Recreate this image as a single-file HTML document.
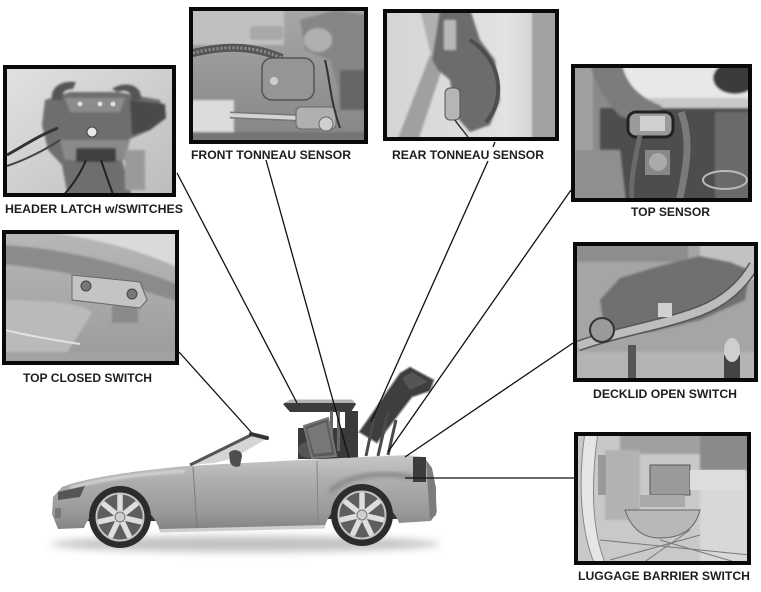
<!DOCTYPE html>
<html><head><meta charset="utf-8"><style>
html,body{margin:0;padding:0;background:#fff;}
svg{display:block}
text{font-family:"Liberation Sans",Arial,sans-serif;font-weight:bold;font-size:12px;fill:#1e1e1e}
</style></head><body>
<svg width="761" height="592" viewBox="0 0 761 592" xmlns="http://www.w3.org/2000/svg">
<defs>
 <filter id="b1" x="-10%" y="-10%" width="120%" height="120%"><feGaussianBlur stdDeviation="1"/></filter>
 <filter id="b2" x="-20%" y="-20%" width="140%" height="140%"><feGaussianBlur stdDeviation="2"/></filter>
 <filter id="b4" x="-20%" y="-100%" width="140%" height="300%"><feGaussianBlur stdDeviation="4"/></filter>
 <clipPath id="cHL"><rect x="3" y="65" width="173" height="132"/></clipPath>
 <clipPath id="cFT"><rect x="189" y="7" width="179" height="137"/></clipPath>
 <clipPath id="cRT"><rect x="383" y="9" width="176" height="132"/></clipPath>
 <clipPath id="cTS"><rect x="571" y="64" width="181" height="138"/></clipPath>
 <clipPath id="cTC"><rect x="2" y="230" width="177" height="135"/></clipPath>
 <clipPath id="cDL"><rect x="573" y="242" width="185" height="140"/></clipPath>
 <clipPath id="cLB"><rect x="574" y="432" width="177" height="133"/></clipPath>
 <linearGradient id="gHL" x1="0" y1="0" x2="1" y2="1"><stop offset="0" stop-color="#e2e2e2"/><stop offset="1" stop-color="#bcbcbc"/></linearGradient>
 <linearGradient id="gFT" x1="0" y1="0" x2="0" y2="1"><stop offset="0" stop-color="#a8a8a8"/><stop offset="1" stop-color="#858585"/></linearGradient>
 <linearGradient id="gRT" x1="0" y1="0" x2="1" y2="0"><stop offset="0" stop-color="#d4d4d4"/><stop offset="0.7" stop-color="#e2e2e2"/><stop offset="1" stop-color="#c8c8c8"/></linearGradient>
 <linearGradient id="gTC" x1="0" y1="0" x2="0" y2="1"><stop offset="0" stop-color="#b8b8b8"/><stop offset="1" stop-color="#9a9a9a"/></linearGradient>
 <linearGradient id="gBody" gradientUnits="userSpaceOnUse" x1="0" y1="455" x2="0" y2="532"><stop offset="0" stop-color="#c8c8c8"/><stop offset="0.3" stop-color="#b0b0b0"/><stop offset="0.75" stop-color="#999"/><stop offset="1" stop-color="#808080"/></linearGradient>
 <g id="wheel">
  <circle r="31" fill="#2c2c2c"/>
  <circle r="23.5" fill="#5e5e5e"/>
  <g stroke="#dedede" stroke-width="5.5" stroke-linecap="round">
   <line x1="0" y1="0" x2="0" y2="-21"/>
   <line x1="0" y1="0" x2="16.4" y2="-13.1"/>
   <line x1="0" y1="0" x2="20.5" y2="4.7"/>
   <line x1="0" y1="0" x2="9.1" y2="18.9"/>
   <line x1="0" y1="0" x2="-9.1" y2="18.9"/>
   <line x1="0" y1="0" x2="-20.5" y2="4.7"/>
   <line x1="0" y1="0" x2="-16.4" y2="-13.1"/>
  </g>
  <circle r="23.5" fill="none" stroke="#c4c4c4" stroke-width="2"/>
  <circle r="5" fill="#cfcfcf" stroke="#777" stroke-width="1"/>
 </g>
</defs>

<rect width="761" height="592" fill="#fff"/>

<!-- ===== HEADER LATCH photo ===== -->
<g clip-path="url(#cHL)">
 <rect x="3" y="65" width="173" height="132" fill="url(#gHL)"/>
 <g filter="url(#b1)">
 <path d="M45,100 L70,92 L118,92 L160,100 L166,118 L150,130 L128,140 L122,160 L132,197 L68,197 L62,165 L48,150 L42,125 Z" fill="#6e6e6e"/>
 <path d="M52,100 C50,88 60,80 76,82 L73,89 C63,89 61,95 63,100 Z" fill="#555"/>
 <path d="M112,89 C125,80 143,85 141,100 L131,100 C133,93 126,88 118,92 Z" fill="#555"/>
 <path d="M65,98 L125,98 L120,112 L70,112 Z" fill="#8c8c8c"/>
 <path d="M130,100 L165,104 L166,118 L150,130 L132,135 Z" fill="#4a4a4a"/>
 <path d="M60,140 L130,140 L125,160 L65,160 Z" fill="#8a8a8a"/>
 <rect x="76" y="148" width="40" height="14" fill="#3f3f3f"/>
 <rect x="125" y="150" width="20" height="40" fill="#9a9a9a"/>
 </g>
 <circle cx="92" cy="132" r="5" fill="#e8e8e8" stroke="#444" stroke-width="1"/>
 <circle cx="80" cy="104" r="2.5" fill="#ddd"/><circle cx="100" cy="104" r="2.5" fill="#ddd"/><circle cx="113" cy="104" r="2.5" fill="#ddd"/>
 <path d="M7,155 C25,145 40,135 58,128" stroke="#333" stroke-width="3" fill="none"/>
 <path d="M7,166 C25,160 45,150 60,140" stroke="#444" stroke-width="2" fill="none"/>
 <path d="M86,160 C80,175 72,186 62,197" stroke="#222" stroke-width="2" fill="none"/>
 <path d="M101,160 C106,175 110,186 114,197" stroke="#222" stroke-width="2" fill="none"/>
</g>
<rect x="5" y="67" width="169" height="128" fill="none" stroke="#0a0a0a" stroke-width="4"/>

<!-- ===== FRONT TONNEAU photo ===== -->
<g clip-path="url(#cFT)">
 <rect x="189" y="7" width="179" height="137" fill="url(#gFT)"/>
 <g filter="url(#b1)">
 <rect x="189" y="7" width="95" height="38" fill="#c0c0c0"/>
 <path d="M300,20 L335,10 L368,15 L368,100 L340,95 L330,60 L305,50 Z" fill="#868686"/>
 <ellipse cx="318" cy="40" rx="14" ry="12" fill="#b0b0b0"/>
 <rect x="250" y="26" width="33" height="14" rx="3" fill="#a8a8a8"/>
 <rect x="340" y="70" width="28" height="40" fill="#666"/>
 <rect x="189" y="100" width="45" height="40" fill="#dcdcdc"/>
 <rect x="189" y="132" width="179" height="12" fill="#747474"/>
 </g>
 <path d="M189,54 C220,46 250,44 282,58" stroke="#555" stroke-width="8" fill="none"/>
 <path d="M189,54 C220,46 250,44 282,58" stroke="#8e8e8e" stroke-width="3" stroke-dasharray="2 2" fill="none"/>
 <rect x="262" y="58" width="52" height="42" rx="10" fill="#959595" stroke="#555" stroke-width="1.5"/>
 <circle cx="274" cy="81" r="4" fill="#cfcfcf"/>
 <line x1="230" y1="115" x2="300" y2="118" stroke="#777" stroke-width="7"/>
 <line x1="230" y1="115" x2="300" y2="118" stroke="#d5d5d5" stroke-width="4"/>
 <rect x="296" y="107" width="40" height="22" rx="5" fill="#b0b0b0" stroke="#666"/>
 <circle cx="326" cy="124" r="7" fill="#cfcfcf" stroke="#666"/>
 <path d="M325,60 C330,80 330,100 340,128" stroke="#333" stroke-width="2" fill="none"/>
</g>
<rect x="191" y="9" width="175" height="133" fill="none" stroke="#0a0a0a" stroke-width="4"/>

<!-- ===== REAR TONNEAU photo ===== -->
<g clip-path="url(#cRT)">
 <rect x="383" y="9" width="176" height="132" fill="url(#gRT)"/>
 <g filter="url(#b1)">
 <rect x="532" y="9" width="27" height="132" fill="#a2a2a2"/>
 <polygon points="397,141 418,141 445,60 430,55" fill="#a0a0a0"/>
 <polygon points="420,9 440,9 445,55 432,60" fill="#b0b0b0"/>
 <path d="M440,9 L470,9 L480,40 L495,60 L500,100 L490,125 L470,132 L455,115 L450,80 L438,70 L432,60 Z" fill="#6c6c6c"/>
 <rect x="444" y="20" width="12" height="30" fill="#b8b8b8"/>
 </g>
 <path d="M470,40 C502,60 506,100 486,122" stroke="#4e4e4e" stroke-width="4" fill="none"/>
 <rect x="445" y="88" width="15" height="32" rx="5" fill="#b5b5b5" stroke="#555"/>
 <path d="M455,120 C460,128 468,135 470,141" stroke="#333" stroke-width="1.5" fill="none"/>
</g>
<rect x="385" y="11" width="172" height="128" fill="none" stroke="#0a0a0a" stroke-width="4"/>

<!-- ===== TOP SENSOR photo ===== -->
<g clip-path="url(#cTS)">
 <rect x="571" y="64" width="181" height="138" fill="#8a8a8a"/>
 <g filter="url(#b1)">
 <path d="M600,64 L752,64 L752,108 L640,108 Z" fill="#e8e8e8"/>
 <rect x="640" y="98" width="112" height="10" fill="#c8c8c8"/>
 <rect x="571" y="64" width="22" height="138" fill="#a0a0a0"/>
 <rect x="600" y="108" width="152" height="94" fill="#4d4d4d"/>
 <path d="M590,64 L622,64 C626,84 640,98 662,106 L652,126 L620,116 C605,100 595,84 590,64 Z" fill="#7c7c7c"/>
 <path d="M575,150 L620,150 L626,202 L575,202 Z" fill="#8f8f8f"/>
 <ellipse cx="735" cy="78" rx="22" ry="16" fill="#3a3a3a"/>
 <rect x="715" y="112" width="37" height="90" fill="#6a6a6a"/>
 </g>
 <rect x="628" y="112" width="45" height="25" rx="8" fill="#9a9a9a" stroke="#222" stroke-width="3"/>
 <rect x="640" y="116" width="25" height="15" fill="#cfcfcf"/>
 <path d="M640,135 C635,160 630,180 632,202" stroke="#6a6a6a" stroke-width="5" fill="none"/>
 <path d="M681,112 C692,140 686,170 679,202" stroke="#7a7a7a" stroke-width="7" fill="none"/>
 <rect x="645" y="150" width="25" height="25" fill="#888"/>
 <circle cx="658" cy="162" r="9" fill="#aaa"/>
 <ellipse cx="725" cy="180" rx="22" ry="9" fill="none" stroke="#bbb" stroke-width="2"/>
</g>
<rect x="573" y="66" width="177" height="134" fill="none" stroke="#0a0a0a" stroke-width="4"/>

<!-- ===== TOP CLOSED SWITCH photo ===== -->
<g clip-path="url(#cTC)">
 <rect x="2" y="230" width="177" height="135" fill="url(#gTC)"/>
 <g filter="url(#b1)">
 <path d="M50,230 L179,230 L179,268 C140,250 100,240 50,232 Z" fill="#dadada"/>
 <path d="M2,245 C60,248 120,262 179,285 L179,302 C120,282 60,270 2,264 Z" fill="#8b8b8b"/>
 <path d="M5,300 C40,300 80,302 92,312 C82,330 72,345 62,360 L2,360 L2,300 Z" fill="#bababa"/>
 <rect x="2" y="352" width="177" height="13" fill="#a2a2a2"/>
 <rect x="112" y="305" width="26" height="18" fill="#8a8a8a"/>
 </g>
 <path d="M72,275 L140,282 L147,300 L140,308 L72,300 Z" fill="#c4c4c4" stroke="#666"/>
 <circle cx="86" cy="286" r="5" fill="#777" stroke="#444"/>
 <circle cx="132" cy="294" r="5" fill="#777" stroke="#444"/>
 <path d="M5,330 C30,336 60,341 80,344" stroke="#e2e2e2" stroke-width="2" fill="none"/>
</g>
<rect x="4" y="232" width="173" height="131" fill="none" stroke="#0a0a0a" stroke-width="4"/>

<!-- ===== DECKLID OPEN SWITCH photo ===== -->
<g clip-path="url(#cDL)">
 <rect x="573" y="242" width="185" height="140" fill="#a5a5a5"/>
 <g filter="url(#b1)">
 <rect x="573" y="242" width="115" height="20" fill="#8d8d8d"/>
 <rect x="700" y="242" width="58" height="38" fill="#c2c2c2"/>
 <rect x="573" y="352" width="185" height="30" fill="#b4b4b4"/>
 <path d="M600,300 L620,278 L660,266 L700,256 L730,262 L750,270 L745,300 L700,320 L650,332 L605,332 Z" fill="#707070"/>
 </g>
 <path d="M578,346 C620,331 660,326 700,311 C730,299 745,281 754,265" stroke="#555" stroke-width="11" fill="none"/>
 <path d="M578,346 C620,331 660,326 700,311 C730,299 745,281 754,265" stroke="#bdbdbd" stroke-width="8" fill="none"/>
 <circle cx="602" cy="330" r="12" fill="#9a9a9a" stroke="#333" stroke-width="2"/>
 <rect x="658" y="303" width="14" height="14" fill="#d0d0d0"/>
 <rect x="628" y="345" width="8" height="37" fill="#555"/>
 <rect x="724" y="355" width="16" height="27" fill="#444"/>
 <ellipse cx="732" cy="350" rx="8" ry="12" fill="#cfcfcf"/>
</g>
<rect x="575" y="244" width="181" height="136" fill="none" stroke="#0a0a0a" stroke-width="4"/>

<!-- ===== LUGGAGE BARRIER photo ===== -->
<g clip-path="url(#cLB)">
 <rect x="574" y="432" width="177" height="133" fill="#c9c9c9"/>
 <g filter="url(#b1)">
 <rect x="700" y="432" width="51" height="38" fill="#8a8a8a"/>
 <rect x="620" y="432" width="80" height="22" fill="#a0a0a0"/>
 <rect x="605" y="450" width="35" height="70" fill="#b2b2b2"/>
 <rect x="700" y="480" width="51" height="85" fill="#d8d8d8"/>
 </g>
 <path d="M585,432 C578,480 580,530 595,565 L606,565 C591,530 591,480 598,432 Z" fill="#e6e6e6" stroke="#888"/>
 <rect x="598" y="455" width="8" height="40" fill="#999"/>
 <rect x="650" y="465" width="40" height="30" fill="#9a9a9a" stroke="#555"/>
 <rect x="690" y="470" width="55" height="20" fill="#dedede"/>
 <rect x="640" y="495" width="45" height="12" fill="#aaa"/>
 <path d="M625,510 L700,510 C695,530 680,538 660,538 C640,538 630,525 625,510 Z" fill="#b8b8b8" stroke="#666"/>
 <g stroke="#777" stroke-width="1" fill="none">
  <path d="M600,540 L750,555"/><path d="M610,560 L700,535"/><path d="M640,565 L690,530"/><path d="M660,540 L745,565"/>
 </g>
</g>
<rect x="576" y="434" width="173" height="129" fill="none" stroke="#0a0a0a" stroke-width="4"/>

<!-- ===== CAR ===== -->
<ellipse cx="245" cy="544" rx="195" ry="8" fill="#9a9a9a" opacity="0.6" filter="url(#b4)"/>

<!-- raised decklid -->
<polygon points="359,432 400,373 410,367 434,380 430,391 412,397 377,443" fill="#3e3e3e" stroke="#9a9a9a" stroke-width="1.5"/>
<polygon points="402,378 412,372 428,382 410,390" fill="#555"/>
<g stroke="#4a4a4a" stroke-width="3">
 <line x1="366" y1="456" x2="374" y2="418"/>
 <line x1="378" y1="456" x2="388" y2="412"/>
 <line x1="388" y1="455" x2="396" y2="420"/>
</g>
<!-- cockpit -->
<rect x="298" y="428" width="48" height="31" fill="#3a3a3a"/>
<ellipse cx="308" cy="450" rx="10" ry="8" fill="#555"/>
<!-- front tonneau raised panel & post -->
<polygon points="283,404 290,400 352,400 356,404 351,412 290,412" fill="#3c3c3c"/>
<polygon points="285,403 291,399.5 352,399.5 355,403" fill="#b4b4b4"/>
<rect x="345" y="411" width="13" height="47" fill="#3a3a3a"/>
<rect x="330" y="411" width="3" height="40" fill="#666"/>
<rect x="337" y="411" width="3" height="40" fill="#666"/>
<polygon points="304,426 328,418 336,456 312,458" fill="#5a5a5a" stroke="#777" stroke-width="2"/>
<polygon points="307,429 326,422 332,452 314,454" fill="#8c8c8c" opacity="0.6"/>

<!-- arch interiors -->
<path d="M82,521 A38 38 0 0 1 158,521 Z" fill="#333"/>
<path d="M324,519 A38 38 0 0 1 400,519 Z" fill="#333"/>

<!-- body -->
<path d="M58,529 L52,514 L53,497 L62,487 C80,480 120,472 187,466 L300,460 L407,455 L424,457 L430,465 L435,485 L437,512 L431,521 L399,523 A39 39 0 0 0 325,526 L160,531 A40 40 0 0 0 84,528 Z" fill="url(#gBody)"/>
<path d="M70,488 C100,479 140,474 185,471" stroke="#d4d4d4" stroke-width="3" fill="none" filter="url(#b1)"/>
<path d="M330,492 C345,476 380,470 415,478" stroke="#828282" stroke-width="4" fill="none" filter="url(#b2)"/>
<!-- headlight, grille -->
<path d="M58,492 L85,486 L80,497 L58,500 Z" fill="#555"/>
<rect x="55" y="508" width="6" height="10" fill="#777"/>
<!-- taillight -->
<rect x="413" y="457" width="13" height="25" fill="#3c3c3c"/>
<path d="M426,460 L432,468 L436,488 L436,515 L430,520 Z" fill="#7c7c7c"/>
<!-- door lines / rocker -->
<line x1="193" y1="467" x2="197" y2="528" stroke="#7a7a7a" stroke-width="1"/>
<line x1="317" y1="461" x2="318" y2="527" stroke="#858585" stroke-width="1"/>
<path d="M160,529 L325,525 L325,528.5 L160,532.5 Z" fill="#cfcfcf"/>
<!-- windshield -->
<polygon points="192,465 251,436 266,439 234,458 214,463" fill="#c9c9c9" opacity="0.8"/>
<line x1="190" y1="465" x2="251" y2="435" stroke="#555" stroke-width="3"/>
<line x1="251" y1="434" x2="267" y2="438" stroke="#333" stroke-width="4" stroke-linecap="round"/>
<!-- mirror -->
<path d="M229,453 C233,448 242,450 242,456 L240,466 C236,468 231,466 230,462 Z" fill="#4e4e4e"/>
<!-- wheels -->
<use href="#wheel" transform="translate(120,517)"/>
<use href="#wheel" transform="translate(362,515)"/>

<!-- ===== LEADER LINES ===== -->
<g stroke="#111" stroke-width="1.3" fill="none">
 <line x1="177" y1="173" x2="297" y2="403"/>
 <line x1="266" y1="160" x2="349" y2="458"/>
 <line x1="495" y1="142" x2="493" y2="147"/>
 <line x1="488" y1="161" x2="371" y2="422"/>
 <line x1="571" y1="190" x2="388" y2="452"/>
 <line x1="179" y1="352" x2="251" y2="432"/>
 <line x1="573" y1="343" x2="405" y2="457"/>
 <line x1="405" y1="478" x2="574" y2="478"/>
</g>

<!-- ===== LABELS ===== -->
<text x="5" y="213" textLength="178" lengthAdjust="spacingAndGlyphs">HEADER LATCH w/SWITCHES</text>
<text x="191" y="159" textLength="160" lengthAdjust="spacingAndGlyphs">FRONT TONNEAU SENSOR</text>
<text x="392" y="159" textLength="152" lengthAdjust="spacingAndGlyphs">REAR TONNEAU SENSOR</text>
<text x="631" y="216" textLength="79" lengthAdjust="spacingAndGlyphs">TOP SENSOR</text>
<text x="23" y="382" textLength="129" lengthAdjust="spacingAndGlyphs">TOP CLOSED SWITCH</text>
<text x="593" y="398" textLength="144" lengthAdjust="spacingAndGlyphs">DECKLID OPEN SWITCH</text>
<text x="578" y="580" textLength="172" lengthAdjust="spacingAndGlyphs">LUGGAGE BARRIER SWITCH</text>
</svg>
</body></html>
